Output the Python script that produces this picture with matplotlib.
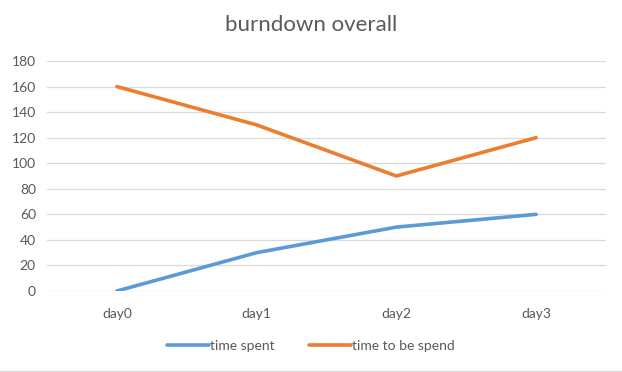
import matplotlib.pyplot as plt
from matplotlib.lines import Line2D

# 数据
days = ['day0', 'day1', 'day2', 'day3']
time_spent = [0, 30, 50, 60]
time_to_be_spend = [160, 130, 90, 120]
y_ticks = list(range(0, 181, 20))

plt.rcParams['font.family'] = ['Lato', 'DejaVu Sans']

fig = plt.figure(figsize=(6.22, 3.72), dpi=100)
ax = fig.add_axes([47 / 622, 1 - 291 / 372, 559 / 622, 230 / 372])

x = range(len(days))
ax.plot(x, time_spent, color='#5B9BD5', lw=2.6, solid_capstyle='round', label='time spent')
ax.plot(x, time_to_be_spend, color='#ED7D31', lw=2.6, solid_capstyle='round', label='time to be spend')

ax.set_xlim(-0.5, len(days) - 0.5)
ax.set_ylim(0, 180)
ax.set_yticks(y_ticks)
ax.set_xticks(list(x))
ax.set_xticklabels(days)
ax.grid(axis='y', color='#D9D9D9', lw=0.9)
ax.set_axisbelow(True)
for s in ax.spines.values():
    s.set_visible(False)
ax.tick_params(length=0, labelsize=10, colors='#595959')
ax.tick_params(axis='x', pad=12)
ax.tick_params(axis='y', pad=8)

fig.text(0.5, 1 - 25 / 372, 'burndown overall', ha='center', va='center',
         fontsize=16, color='#595959')

ax.legend(loc='center', bbox_to_anchor=(0.5, 1 - 346 / 372), bbox_transform=fig.transFigure,
          ncol=2, frameon=False, fontsize=10, labelcolor='#595959',
          handlelength=3.0, handletextpad=0.1, columnspacing=2.5)

fig.add_artist(Line2D([0, 1], [1 - 370.5 / 372] * 2, transform=fig.transFigure,
                      color='#D9D9D9', lw=1))

fig.savefig('out.png', dpi=100)
